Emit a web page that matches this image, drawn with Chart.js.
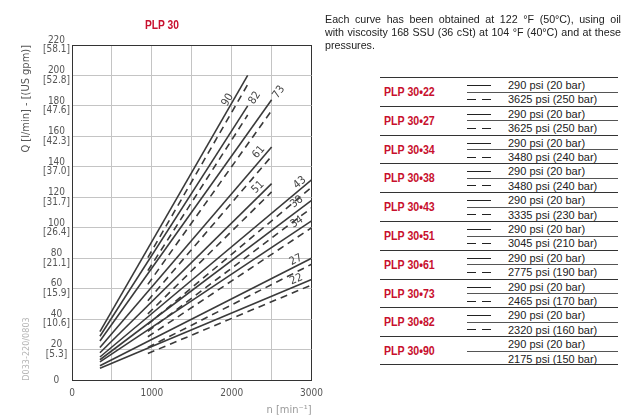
<!DOCTYPE html>
<html>
<head>
<meta charset="utf-8">
<script src="https://cdn.jsdelivr.net/npm/chart.js@4.4.1/dist/chart.umd.min.js"></script>
<style>
  html, body { margin:0; padding:0; background:#fff; }
  body { width:637px; height:418px; position:relative; overflow:hidden; font-family:"Liberation Sans", Arial, sans-serif; }
  #wrap { position:absolute; left:0; top:0; width:330px; height:418px; }
  #title { position:absolute; left:145px; top:18px; color:#c8102e; font-weight:bold; font-size:12.5px; font-family:"Liberation Sans", Arial, sans-serif; transform:scaleX(0.82); transform-origin:left top; white-space:nowrap; }
  #note { position:absolute; left:325px; top:13px; width:296px; font-size:10.7px; line-height:13px; color:#222; }
  #note .j { text-align:justify; text-align-last:justify; white-space:nowrap; }
  #tbl { position:absolute; left:380px; top:77px; width:238px; }
  .grp { position:relative; height:28.8px; border-top:1px solid #333; box-sizing:border-box; }
  .grp.last { border-bottom:1px solid #333; }
  .gname { position:absolute; left:4px; top:0; height:28px; line-height:29px; color:#c8102e; font-weight:bold; font-size:12.5px; font-family:"Liberation Sans", Arial, sans-serif; transform:scaleX(0.85); transform-origin:left center; white-space:nowrap; }
  .mid { position:absolute; left:87px; right:0; top:13.6px; border-top:1px solid #555; }
  .row { position:absolute; left:128px; font-size:11px; color:#222; line-height:14px; white-space:nowrap; }
  .sym { position:absolute; left:87px; width:24px; }
  .sym.solid { border-top:1.5px solid #222; }
  .sym.dash { height:0; }
  .sym.dash span { position:absolute; top:0; width:9px; border-top:1.5px solid #222; }
</style>
</head>
<body>
<div id="wrap"><canvas id="c" width="330" height="418"></canvas></div>
<div id="title">PLP 30</div>
<div id="note"><div class="j">Each curve has been obtained at 122 °F (50°C), using oil</div><div class="j">with viscosity 168 SSU (36 cSt) at 104 °F (40°C) and at these</div><div>pressures.</div></div>
<div id="tbl"></div>
<script>
// ---- data ----
const models = ['22','27','34','38','43','51','61','73','82','90'];
const solidStartRpm = [350,350,350,350,350,350,350,350,350,350];
const solidStartQ   = [7.7, 9.4, 11.9, 13.3, 15.1, 17.9, 21.4, 25.6, 28.7, 31.8];
const solidEndRpm   = [3000,3000,3000,3000,3000,2500,2500,2500,2200,2200];
const solidEndQ     = [66, 80, 104.5, 118, 131.5, 129, 153, 184, 180, 200];
const dashedStartRpm = [950,950,950,950,950,950,950,950,950,950];
const dashedStartQ   = [17.4, 21.4, 28.4, 32.0, 36.5, 43.4, 52.1, 62.8, 71.8, 80.4];
const dashedEndRpm   = [3000,3000,3000,3000,3000,2500,2500,2500,2200,2200];
const dashedEndQ     = [62.4, 76, 100, 113, 126.5, 123.5, 147, 177, 174, 194];
const yTicks   = [0,20,40,60,80,100,120,140,160,180,200,220];
const yTickGpm = ['', '[5.3]', '[10.6]', '[15.9]', '[21.1]', '[26.4]', '[31.7]', '[37.0]', '[42.3]', '[47.6]', '[52.8]', '[58.1]'];
const xTickLabels = ['0','1000','2000','3000'];
const lowPressure = '290 psi (20 bar)';
const highPsi = ['3625','3625','3480','3480','3335','3045','2775','2465','2320','2175'];
const highBar = ['250','250','240','240','230','210','190','170','160','150'];
// label placement style (rpm along solid line, perpendicular px offset)
const labelRpm = [2838, 2835, 2866, 2872, 2896, 2390, 2400, 2576, 2271, 2005];
const labelOff = [6, 5.5, 7, 7.5, 5.3, 7, 6.4, -1.4, -1.7, 5];

const LINE = '#3a3a3a';
const NARROW = '"DejaVu Sans Condensed","Liberation Sans Narrow",sans-serif';

const datasets = [];
models.forEach((m, i) => {
  datasets.push({
    label: m + ' solid',
    data: [{x: solidStartRpm[i], y: solidStartQ[i]}, {x: solidEndRpm[i], y: solidEndQ[i]}],
    borderColor: LINE, borderWidth: 1.6, pointRadius: 0, fill: false
  });
  datasets.push({
    label: m + ' dashed',
    data: [{x: dashedStartRpm[i], y: dashedStartQ[i]}, {x: dashedEndRpm[i], y: dashedEndQ[i]}],
    borderColor: LINE, borderWidth: 1.6, borderDash: [7, 5], pointRadius: 0, fill: false
  });
});

const labelPlugin = {
  id: 'curveLabels',
  afterDatasetsDraw(chart) {
    const {ctx, scales: {x, y}} = chart;
    ctx.save();
    ctx.fillStyle = '#444';
    ctx.font = '11px ' + NARROW;
    ctx.textAlign = 'center';
    ctx.textBaseline = 'middle';
    models.forEach((m, i) => {
      const x1 = x.getPixelForValue(solidStartRpm[i]), y1 = y.getPixelForValue(solidStartQ[i]);
      const x2 = x.getPixelForValue(solidEndRpm[i]), y2 = y.getPixelForValue(solidEndQ[i]);
      const a = Math.atan2(y2 - y1, x2 - x1);
      const t = (labelRpm[i] - solidStartRpm[i]) / (solidEndRpm[i] - solidStartRpm[i]);
      const qx = solidStartQ[i] + t * (solidEndQ[i] - solidStartQ[i]);
      let px = x.getPixelForValue(labelRpm[i]), py = y.getPixelForValue(qx);
      px += Math.sin(a) * labelOff[i];
      py += -Math.cos(a) * labelOff[i];
      ctx.save();
      ctx.translate(px, py);
      ctx.rotate(a);
      ctx.fillText(m, 0, 0);
      ctx.restore();
    });
    // drawing code, vertical
    ctx.save();
    ctx.fillStyle = '#b5b5b5';
    ctx.font = '9px ' + NARROW;
    ctx.translate(27, 349);
    ctx.rotate(-Math.PI / 2);
    ctx.fillText('D033-220/0803', 0, 0);
    ctx.restore();
    ctx.restore();
  }
};

new Chart(document.getElementById('c'), {
  type: 'line',
  data: { datasets },
  options: {
    responsive: false,
    animation: false,
    devicePixelRatio: 1,
    layout: { padding: { left: 0, top: 45, right: 18, bottom: 0 } },
    plugins: { legend: { display: false }, tooltip: { enabled: false } },
    scales: {
      x: {
        type: 'linear', min: 0, max: 3000,
        afterFit(s) { s.height = 38; },
        ticks: {
          stepSize: 500, padding: 7, color: '#555',
          font: { size: 10, family: NARROW },
          maxRotation: 0,
          callback: (v) => (v % 1000 === 0 ? xTickLabels[v / 1000] : '')
        },
        grid: {
          drawTicks: false,
          color: (c) => (c.tick && c.tick.value === 3000 ? '#333' : '#c4c4c4'),
          lineWidth: 1
        },
        border: { color: '#333', width: 1 },
        title: { display: true, text: 'n [min⁻¹]', align: 'end', color: '#999',
                 font: { size: 11, family: NARROW }, padding: { top: 0, bottom: 1.5 } }
      },
      y: {
        type: 'linear', min: 0, max: 220,
        afterFit(s) { s.width = 72; },
        afterBuildTicks(s) { s.ticks = yTicks.map(v => ({ value: v })); },
        ticks: {
          padding: 2, crossAlign: 'center', color: '#555',
          font: { size: 10, family: NARROW, lineHeight: 0.95 },
          callback: (v) => { const i = yTicks.indexOf(v); return v === 0 ? '0' : [String(v), yTickGpm[i]]; }
        },
        grid: {
          drawTicks: false,
          color: (c) => (c.tick && c.tick.value === 220 ? '#333' : '#c4c4c4'),
          lineWidth: 1
        },
        border: { color: '#333', width: 1 },
        title: { display: true, text: 'Q [l/min] - [(US gpm)]', align: 'end', color: '#555',
                 font: { size: 11, family: NARROW }, padding: { top: 20, bottom: 0 } }
      }
    }
  },
  plugins: [labelPlugin]
});

// ---- legend table ----
const tbl = document.getElementById('tbl');
models.forEach((m, i) => {
  const g = document.createElement('div');
  g.className = 'grp' + (i === models.length - 1 ? ' last' : '');
  const name = document.createElement('div');
  name.className = 'gname';
  name.textContent = 'PLP 30•' + m;
  g.appendChild(name);
  const mid = document.createElement('div');
  mid.className = 'mid';
  g.appendChild(mid);
  const r1 = document.createElement('div');
  r1.className = 'row'; r1.style.top = '0px'; r1.textContent = lowPressure;
  const r2 = document.createElement('div');
  r2.className = 'row'; r2.style.top = '14.4px'; r2.textContent = highPsi[i] + ' psi (' + highBar[i] + ' bar)';
  g.appendChild(r1); g.appendChild(r2);
  if (i !== models.length - 1) {
    const s1 = document.createElement('div');
    s1.className = 'sym solid'; s1.style.top = '7px';
    const s2 = document.createElement('div');
    s2.className = 'sym dash'; s2.style.top = '21px';
    const d1 = document.createElement('span'); d1.style.left = '0px';
    const d2 = document.createElement('span'); d2.style.left = '15px';
    s2.appendChild(d1); s2.appendChild(d2);
    g.appendChild(s1); g.appendChild(s2);
  }
  tbl.appendChild(g);
});
</script>
</body>
</html>
